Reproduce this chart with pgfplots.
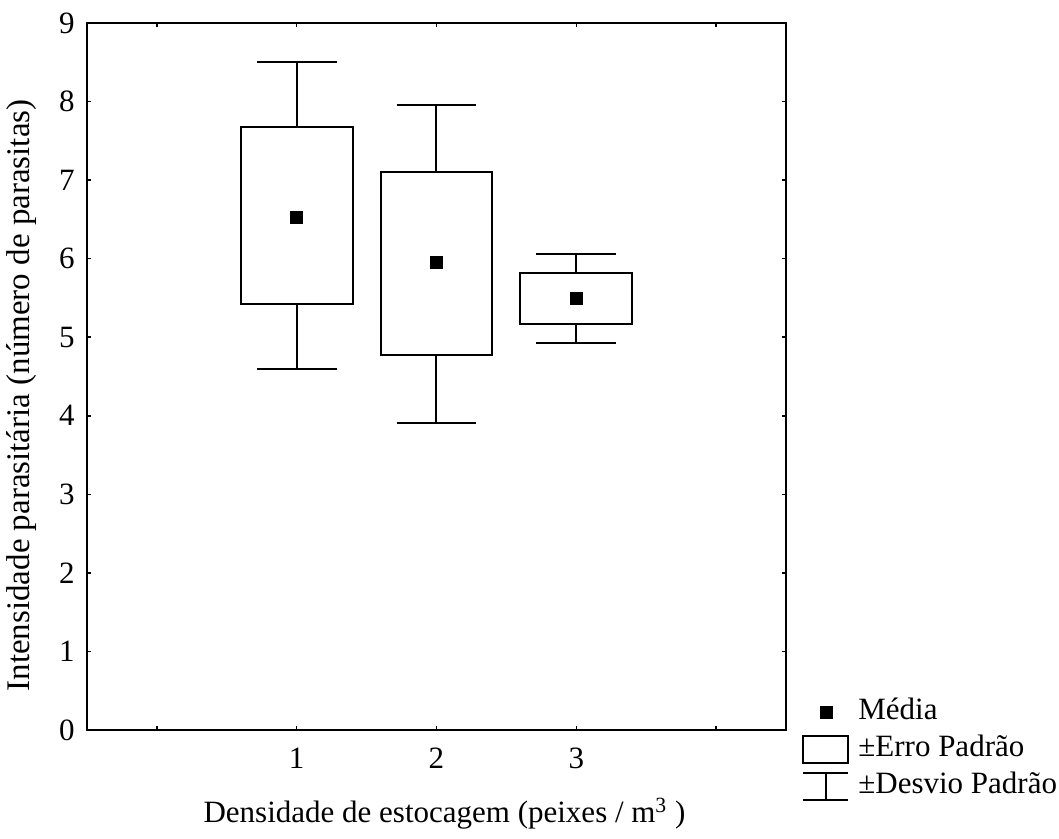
\documentclass[border=0pt]{standalone}
\usepackage{fontspec}
\setmainfont{Liberation Serif}
\usepackage{pgfplots}
\pgfplotsset{compat=1.18}
\usepgfplotslibrary{statistics}

\begin{document}
\begin{tikzpicture}
\begin{axis}[
  scale only axis,
  width=349.5pt, height=353.5pt,
  xmin=-0.5, xmax=4.5,
  ymin=0, ymax=9,
  xtick={0,1,2,3,4},
  xticklabels={,1,2,3,},
  ytick={0,1,...,9},
  tick align=inside,
  major tick length=2pt,
  axis line style={line width=1pt},
  tick style={line width=0.8pt, black},
  font=\fontsize{15.5}{18}\selectfont,
  /pgf/number format/assume math mode=true,
  yticklabel style={anchor=east, inner sep=0pt, xshift=-6pt},
  xticklabel style={anchor=base, inner sep=0pt, yshift=-19.5pt},
  every axis y label/.style={at={(rel axis cs:0,0.5)}, xshift=-32.5pt, yshift=-9.5pt, rotate=90, anchor=center, font=\fontsize{16.5}{19}\selectfont},
  every axis x label/.style={at={(rel axis cs:0.5,0)}, anchor=base, yshift=-46.5pt, xshift=4pt},
  ylabel={Intensidade parasitária (número de parasitas)},
  xlabel={Densidade de estocagem (peixes / m\textsuperscript{3} )},
  boxplot/draw direction=y,
  boxplot/box extend=0.8,
  boxplot/whisker extend=0.571,
  legend cell align=left,
  legend style={at={(rel axis cs:1,0)}, anchor=west, xshift=8pt, yshift=-9.75pt,
    draw=none, fill=none, inner sep=0pt, row sep=2.6pt, column sep=3pt,
    nodes={inner sep=1.5pt, text height=10pt, text depth=3pt},
    font=\fontsize{15.5}{18}\selectfont},
]
\coordinate (O) at (rel axis cs:0,0);

% caixas: +-erro padrao, bigodes: +-desvio padrao
\addplot[black, line width=1pt, forget plot, boxplot prepared={
  draw position=1, lower whisker=4.59, lower quartile=5.42,
  median=5.42, upper quartile=7.67, upper whisker=8.50}] coordinates {};
\addplot[black, line width=1pt, forget plot, boxplot prepared={
  draw position=2, lower whisker=3.91, lower quartile=4.77,
  median=4.77, upper quartile=7.10, upper whisker=7.96}] coordinates {};
\addplot[black, line width=1pt, forget plot, boxplot prepared={
  draw position=3, lower whisker=4.93, lower quartile=5.17,
  median=5.17, upper quartile=5.82, upper whisker=6.06}] coordinates {};

% medias
\addplot[only marks, mark=square*, mark size=3pt, black, forget plot]
  coordinates {(1,6.53) (2,5.95) (3,5.49)};

\addlegendimage{legend image code/.code={\fill[black] (8.25pt,-3pt) rectangle (14.25pt,3pt);}}
\addlegendentry{Média}
\addlegendimage{legend image code/.code={\draw[black, line width=1pt] (0pt,-6.75pt) rectangle (22.5pt,6.75pt);}}
\addlegendentry{±Erro Padrão}
\addlegendimage{legend image code/.code={\draw[black, line width=1pt] (0pt,6.75pt) -- (22.5pt,6.75pt) (11.25pt,6.75pt) -- (11.25pt,-6.75pt) (0pt,-6.75pt) -- (22.5pt,-6.75pt);}}
\addlegendentry{±Desvio Padrão}
\end{axis}
\pgfresetboundingbox
\path (O) ++(-43.5pt,-54.5pt) rectangle ++(529.5pt,419.5pt);
\end{tikzpicture}
\end{document}
